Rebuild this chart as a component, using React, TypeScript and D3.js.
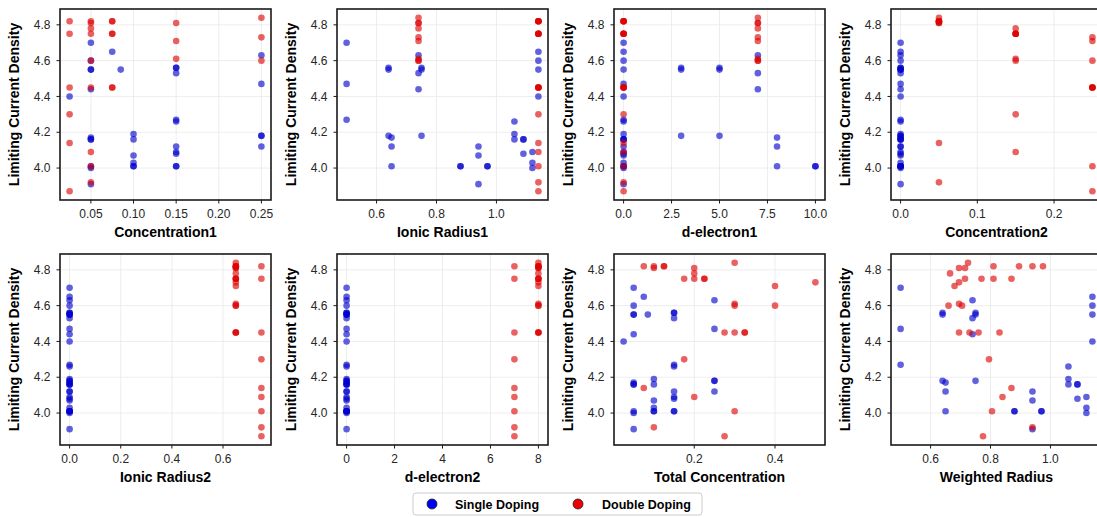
import React, { useEffect, useRef } from "react";
import * as d3 from "d3";

const width = 1097;
const height = 517;
const colLeft = [60, 337, 614, 891];
const rowTop = [9, 254];
const plotW = 211;
const plotH = 191;
const font = "'Liberation Sans', Arial, sans-serif";

// ---- single doping samples ----
const singleConc1 = [0.05, 0.25, 0.15, 0.15, 0.05, 0.25, 0.05, 0.15, 0.1, 0.25, 0.15, 0.05, 0.15, 0.05, 0.25, 0.15, 0.1, 0.25, 0.1, 0.05, 0.05, 0.15, 0.15, 0.1, 0.1, 0.05, 0.05, 0.15, 0.15, 0.1, 0.05, 0.075, 0.05, 0.085, 0.025];
const singleRadius1 = [0.5, 0.5, 0.5, 0.64, 0.64, 0.64, 0.65, 0.65, 0.65, 0.74, 0.74, 0.74, 0.75, 0.75, 0.75, 0.88, 0.88, 0.94, 0.94, 0.94, 0.97, 0.97, 1.06, 1.06, 1.06, 1.09, 1.09, 1.09, 1.12, 1.12, 1.12, 1.14, 1.14, 1.14, 1.14];
const singleDElectron1 = [0, 0, 0, 3, 3, 3, 8, 8, 8, 7, 7, 7, 5, 5, 5, 10, 10, 0, 0, 0, 0, 0, 0, 0, 0, 0, 0, 0, 0, 0, 0, 0, 0, 0, 0];
const singleNoDopant2 = [0, 0, 0, 0, 0, 0, 0, 0, 0, 0, 0, 0, 0, 0, 0, 0, 0, 0, 0, 0, 0, 0, 0, 0, 0, 0, 0, 0, 0, 0, 0, 0, 0, 0, 0];
const singleLCD = [4.7, 4.47, 4.27, 4.56, 4.55, 4.18, 4.17, 4.12, 4.01, 4.63, 4.53, 4.44, 4.56, 4.55, 4.18, 4.01, 4.01, 4.12, 4.07, 3.91, 4.01, 4.01, 4.26, 4.19, 4.16, 4.16, 4.16, 4.08, 4.09, 4.03, 4.0, 4.65, 4.6, 4.55, 4.4];

// ---- double doping samples ----
const doubleConc1 = [0.25, 0.05, 0.15, 0.05, 0.25, 0.15, 0.15, 0.25, 0.05, 0.025, 0.05, 0.075, 0.075, 0.025, 0.05, 0.075, 0.075, 0.025, 0.05, 0.075, 0.075, 0.025, 0.025, 0.05, 0.05, 0.05, 0.025];
const doubleRadius1 = [0.74, 0.74, 0.74, 0.74, 0.74, 0.74, 0.74, 0.74, 0.74, 1.14, 1.14, 1.14, 1.14, 1.14, 1.14, 1.14, 1.14, 1.14, 1.14, 1.14, 1.14, 1.14, 1.14, 1.14, 1.14, 1.14, 1.14];
const doubleDElectron1 = [7, 7, 7, 7, 7, 7, 7, 7, 7, 0, 0, 0, 0, 0, 0, 0, 0, 0, 0, 0, 0, 0, 0, 0, 0, 0, 0];
const doubleConc2 = [0.05, 0.05, 0.05, 0.15, 0.25, 0.25, 0.15, 0.15, 0.25, 0.05, 0.05, 0.05, 0.05, 0.15, 0.15, 0.15, 0.15, 0.25, 0.25, 0.25, 0.25, 0.15, 0.05, 0.15, 0.25, 0.05, 0.25];
const doubleRadius2 = [0.65, 0.65, 0.65, 0.65, 0.65, 0.65, 0.65, 0.65, 0.65, 0.65, 0.65, 0.65, 0.75, 0.65, 0.65, 0.65, 0.75, 0.65, 0.65, 0.65, 0.75, 0.75, 0.75, 0.75, 0.75, 0.75, 0.75];
const doubleDElectron2 = [8, 8, 8, 8, 8, 8, 8, 8, 8, 8, 8, 8, 7, 8, 8, 8, 7, 8, 8, 8, 7, 7, 7, 7, 7, 7, 7];
const doubleTotal = [0.3, 0.1, 0.2, 0.2, 0.5, 0.4, 0.3, 0.4, 0.3, 0.075, 0.1, 0.125, 0.125, 0.175, 0.2, 0.225, 0.225, 0.275, 0.3, 0.325, 0.325, 0.175, 0.075, 0.2, 0.3, 0.1, 0.275];
const doubleWeightedRadius = [0.725, 0.695, 0.715, 0.665, 0.695, 0.68, 0.695, 0.705, 0.66, 0.81, 0.895, 0.94, 0.975, 0.715, 0.77, 0.81, 0.87, 0.695, 0.73, 0.76, 0.83, 0.795, 0.87, 0.84, 0.805, 0.94, 0.775];
const doubleLCD = [4.84, 4.81, 4.81, 4.78, 4.73, 4.71, 4.61, 4.6, 4.6, 4.82, 4.82, 4.82, 4.82, 4.75, 4.75, 4.75, 4.75, 4.45, 4.45, 4.45, 4.45, 4.3, 4.14, 4.09, 4.01, 3.92, 3.87];

const yTicks = [4.0, 4.2, 4.4, 4.6, 4.8];
const yLabel = "Limiting Current Density";

const panels = [
  { label: "Concentration1", single: singleConc1, double: doubleConc1, ticks: [0.05, 0.1, 0.15, 0.2, 0.25], fmt: ".2f" },
  { label: "Ionic Radius1", single: singleRadius1, double: doubleRadius1, ticks: [0.6, 0.8, 1.0], fmt: ".1f" },
  { label: "d-electron1", single: singleDElectron1, double: doubleDElectron1, ticks: [0, 2.5, 5, 7.5, 10], fmt: ".1f" },
  { label: "Concentration2", single: singleNoDopant2, double: doubleConc2, ticks: [0, 0.1, 0.2], fmt: ".1f" },
  { label: "Ionic Radius2", single: singleNoDopant2, double: doubleRadius2, ticks: [0, 0.2, 0.4, 0.6], fmt: ".1f" },
  { label: "d-electron2", single: singleNoDopant2, double: doubleDElectron2, ticks: [0, 2, 4, 6, 8], fmt: "d" },
  { label: "Total Concentration", single: singleConc1, double: doubleTotal, ticks: [0.2, 0.4], fmt: ".1f" },
  { label: "Weighted Radius", single: singleRadius1, double: doubleWeightedRadius, ticks: [0.6, 0.8, 1.0], fmt: ".1f" },
];

const singleColor = "#0000cc";
const doubleColor = "#dd0000";

// matplotlib style 5% margins
function padded(vals: number[]): [number, number] {
  const [lo, hi] = d3.extent(vals) as [number, number];
  const m = (hi - lo) * 0.05;
  return [lo - m, hi + m];
}

export default function App() {
  const ref = useRef<SVGSVGElement>(null);

  useEffect(() => {
    const svg = d3.select(ref.current);
    svg.selectAll("*").remove();

    const yScale = d3.scaleLinear()
      .domain(padded(singleLCD.concat(doubleLCD)))
      .range([plotH, 0]);

    panels.forEach((p, i) => {
      const col = i % 4;
      const row = Math.floor(i / 4);
      const g = svg.append("g")
        .attr("transform", `translate(${colLeft[col]},${rowTop[row]})`);

      const xScale = d3.scaleLinear()
        .domain(padded(p.single.concat(p.double)))
        .range([0, plotW]);
      const fmt = d3.format(p.fmt);

      // grid
      g.selectAll(".gx").data(p.ticks).join("line")
        .attr("x1", d => xScale(d)).attr("x2", d => xScale(d))
        .attr("y1", 0).attr("y2", plotH)
        .attr("stroke", "#e8e8e8").attr("stroke-width", 0.8);
      g.selectAll(".gy").data(yTicks).join("line")
        .attr("x1", 0).attr("x2", plotW)
        .attr("y1", d => yScale(d)).attr("y2", d => yScale(d))
        .attr("stroke", "#e8e8e8").attr("stroke-width", 0.8);

      // points
      g.append("g").selectAll("circle").data(p.single.map((x, k) => [x, singleLCD[k]]))
        .join("circle")
        .attr("cx", d => xScale(d[0])).attr("cy", d => yScale(d[1]))
        .attr("r", 3.3).attr("fill", singleColor).attr("fill-opacity", 0.62);
      g.append("g").selectAll("circle").data(p.double.map((x, k) => [x, doubleLCD[k]]))
        .join("circle")
        .attr("cx", d => xScale(d[0])).attr("cy", d => yScale(d[1]))
        .attr("r", 3.3).attr("fill", doubleColor).attr("fill-opacity", 0.62);

      // frame
      g.append("rect")
        .attr("width", plotW).attr("height", plotH)
        .attr("fill", "none").attr("stroke", "#1a1a1a").attr("stroke-width", 1.6);

      // x ticks
      const xt = g.append("g").selectAll("g").data(p.ticks).join("g")
        .attr("transform", d => `translate(${xScale(d)},${plotH})`);
      xt.append("line").attr("y2", 3.5).attr("stroke", "#1a1a1a").attr("stroke-width", 1);
      xt.append("text")
        .attr("y", 18).attr("text-anchor", "middle")
        .attr("font-family", font).attr("font-size", 12).attr("fill", "#262626")
        .text(d => fmt(d));

      // y ticks
      const yt = g.append("g").selectAll("g").data(yTicks).join("g")
        .attr("transform", d => `translate(0,${yScale(d)})`);
      yt.append("line").attr("x2", -3.5).attr("stroke", "#1a1a1a").attr("stroke-width", 1);
      yt.append("text")
        .attr("x", -9.5).attr("dy", "0.35em").attr("text-anchor", "end")
        .attr("font-family", font).attr("font-size", 12).attr("fill", "#262626")
        .text(d => d3.format(".1f")(d));

      // labels
      g.append("text")
        .attr("x", plotW / 2).attr("y", plotH + 37)
        .attr("text-anchor", "middle")
        .attr("font-family", font).attr("font-size", 14).attr("font-weight", "bold")
        .text(p.label);
      g.append("text")
        .attr("transform", `translate(-41,${plotH / 2}) rotate(-90)`)
        .attr("text-anchor", "middle")
        .attr("font-family", font).attr("font-size", 14).attr("font-weight", "bold")
        .text(yLabel);
    });

    // legend
    const legend = svg.append("g");
    legend.append("rect")
      .attr("x", 413).attr("y", 493).attr("width", 289).attr("height", 22)
      .attr("rx", 3).attr("fill", "white").attr("stroke", "#cccccc").attr("stroke-width", 1);
    const items = [
      { name: "Single Doping", color: "#0000ee", cx: 432, tx: 455 },
      { name: "Double Doping", color: "#ee0000", cx: 578, tx: 602 },
    ];
    items.forEach(it => {
      legend.append("circle")
        .attr("cx", it.cx).attr("cy", 504).attr("r", 5)
        .attr("fill", it.color).attr("stroke", "#222").attr("stroke-width", 0.8);
      legend.append("text")
        .attr("x", it.tx).attr("y", 508.5)
        .attr("font-family", font).attr("font-size", 12.5).attr("font-weight", "bold")
        .text(it.name);
    });
  }, []);

  return (
    <svg
      ref={ref}
      width={width}
      height={height}
      style={{ position: "absolute", left: 0, top: 0, background: "white" }}
    />
  );
}
